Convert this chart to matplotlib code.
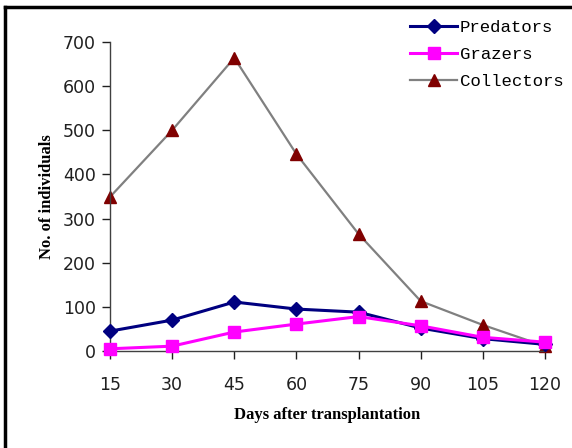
import matplotlib
matplotlib.use('Agg')
from matplotlib import pyplot as plt
from matplotlib.lines import Line2D

days = [15, 30, 45, 60, 75, 90, 105, 120]
predators = [45, 70, 111, 95, 88, 52, 28, 15]
grazers = [5, 11, 43, 61, 78, 57, 31, 20]
collectors = [349, 500, 664, 446, 265, 113, 59, 11]
yticks = [0, 100, 200, 300, 400, 500, 600, 700]

fig = plt.figure(figsize=(5.72, 4.48), dpi=100)
ax = fig.add_axes([0.1923, 0.2165, 0.7605, 0.6898])

ax.plot(days, collectors, color='#808080', lw=1.6, marker='^', ms=9,
        mfc='#800000', mec='#800000', label='Collectors', zorder=2)
ax.plot(days, predators, color='#000080', lw=2.2, marker='D', ms=7.5,
        mfc='#000080', mec='#000080', label='Predators', zorder=3)
ax.plot(days, grazers, color='#FF00FF', lw=2.2, marker='s', ms=8.5,
        mfc='#FF00FF', mec='#FF00FF', label='Grazers', zorder=4)

ax.set_xlim(15, 120)
ax.set_ylim(0, 700)
ax.set_xticks(days)
ax.set_yticks(yticks)
ax.tick_params(labelsize=12.5, colors='#202020', length=6, width=1)
ax.tick_params(axis='x', pad=12)
ax.tick_params(axis='y', pad=4)
for s in ['top', 'right']:
    ax.spines[s].set_visible(False)
for s in ['left', 'bottom']:
    ax.spines[s].set_color('#404040')
    ax.spines[s].set_linewidth(1)
for ln in ax.lines:
    ln.set_clip_on(False)

ax.set_xlabel('Days after transplantation', family='Liberation Serif',
              fontweight='bold', fontsize=12, labelpad=9)
ax.set_ylabel('No. of individuals', family='Liberation Serif',
              fontweight='bold', fontsize=12, labelpad=6)

handles = [ax.lines[1], ax.lines[2], ax.lines[0]]
ax.legend(handles, ['Predators', 'Grazers', 'Collectors'],
          prop={'family': 'Liberation Mono', 'size': 12.5},
          frameon=False, loc='upper left', bbox_to_anchor=(0.69, 1.07),
          handlelength=2.7, handletextpad=0.15, labelspacing=0.68,
          borderaxespad=0, borderpad=0)

# outer border, only left and top visible
fig.add_artist(Line2D([5 / 572, 5 / 572], [0, 1 - 7 / 448],
                      transform=fig.transFigure, color='black', lw=2.5))
fig.add_artist(Line2D([5 / 572, 1], [1 - 7 / 448, 1 - 7 / 448],
                      transform=fig.transFigure, color='black', lw=2.5))

plt.savefig('out.png', dpi=100)
